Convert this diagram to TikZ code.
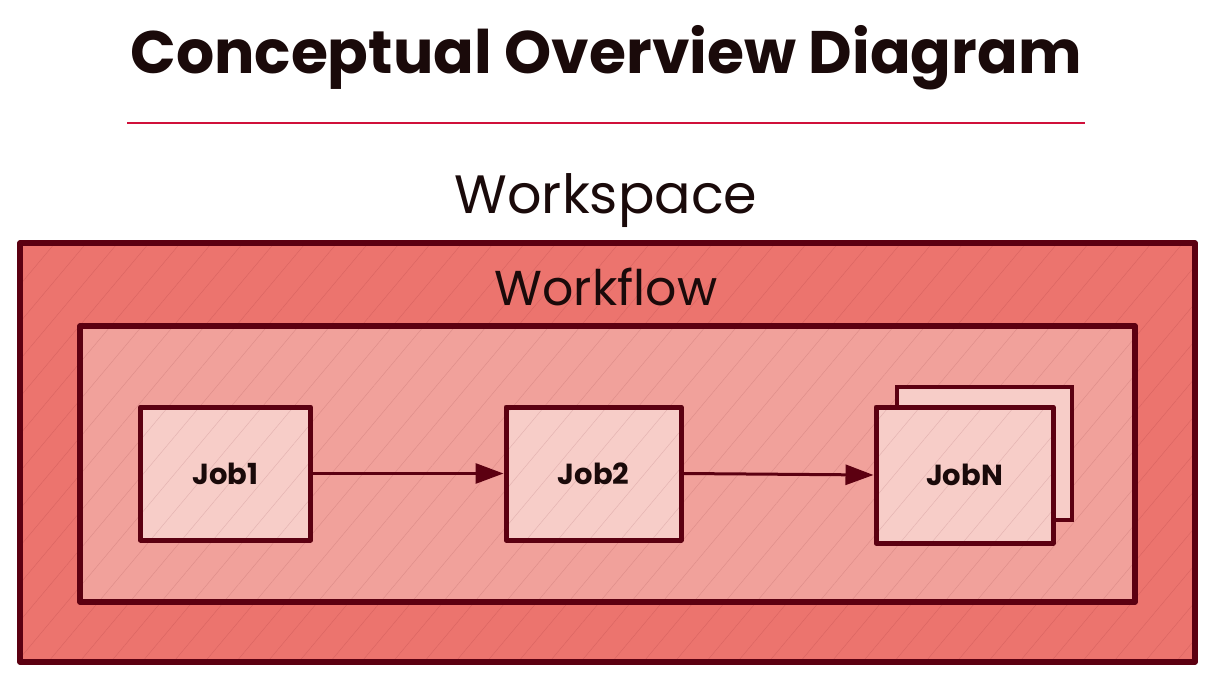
\documentclass[tikz,border=0pt]{standalone}
\usepackage{fontspec}
\setmainfont{Poppins}
\usetikzlibrary{arrows.meta,patterns.meta}
\definecolor{outerfill}{HTML}{EC746E}
\definecolor{innerfill}{HTML}{F1A19B}
\definecolor{jobfill}{HTML}{F7CDC8}
\definecolor{edge}{HTML}{5C0011}
\definecolor{rule}{HTML}{D0103A}
\definecolor{ink}{HTML}{1A0A0A}
\colorlet{outerhatch}{outerfill!88!edge}
\colorlet{innerhatch}{innerfill!88!edge}
\colorlet{jobhatch}{jobfill!88!edge}
\tikzset{
  hatch/.style={pattern={Lines[angle=50,distance=24pt,line width=0.5pt]}, pattern color=#1},
  boxbase/.style={draw=edge, line width=5.5pt, line join=round, inner sep=0pt},
  outerbox/.style={boxbase, preaction={fill=outerfill}, preaction={hatch=outerhatch}},
  innerbox/.style={boxbase, preaction={fill=innerfill}, preaction={hatch=innerhatch}},
  jobbox/.style={boxbase, line width=5pt, preaction={fill=jobfill}, preaction={hatch=jobhatch}, minimum width=170pt, minimum height=133pt, font=\bfseries\fontsize{29}{34}\selectfont, text=ink},
  backbox/.style={draw=edge, line width=3.5pt, fill=jobfill, minimum width=175pt, minimum height=133pt},
  flow/.style={draw=edge, line width=3pt, -{Triangle[length=28pt,width=20pt]}}
}
\begin{document}
\begin{tikzpicture}[x=1pt,y=-1pt]
\useasboundingbox (0,0) rectangle (1214,682);
% title
\node[font=\bfseries\fontsize{60}{70}\selectfont, text=ink] (title) at (606,58) {Conceptual Overview Diagram};
\draw[rule, line width=1.5pt] (127,123) coordinate (rl) -- (1085,123) coordinate (rr);
\node[font=\fontsize{54}{62}\selectfont, text=ink] (ws) at (606,201) {Workspace};
% outer workspace box
\draw[outerbox] (20,243) rectangle (1195,662);
\node[font=\fontsize{49}{56}\selectfont, text=ink] (wf) at (606,287) {Workflow};
% workflow box
\draw[innerbox] (80,326) rectangle (1135,602);
% jobs
\node[backbox] (jobNback) at (984.5,453.5) {};
\node[jobbox] (job1) at (225.5,473.5) {Job1};
\node[jobbox, minimum width=175pt] (job2) at (593.5,473.5) {Job2};
\node[jobbox, minimum width=177pt, minimum height=136pt] (jobN) at (964.5,475) {JobN};
\draw[flow] (job1.east) -- (job2.west);
\draw[flow] (job2.east) -- (jobN.west);
\end{tikzpicture}
\end{document}
